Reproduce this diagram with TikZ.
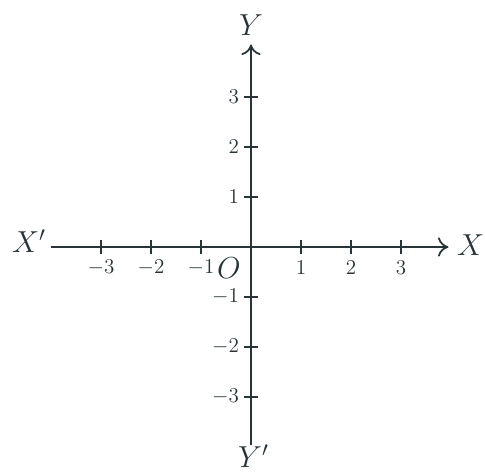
\documentclass[tikz,border=0pt]{standalone}
\usepackage{xcolor}
\usepackage{tikz}
\usetikzlibrary{arrows.meta}
\definecolor{axisgrey}{RGB}{40, 52, 56}

\begin{document}
\begin{tikzpicture}[
    axis/.style={draw=axisgrey, line width=1pt, -{To[length=6pt,width=11pt]}},
    tick/.style={draw=axisgrey, line width=0.8pt},
    axislabel/.style={text=axisgrey, font=\LARGE},
    ticklabel/.style={text=axisgrey, font=\large, inner sep=1pt}
  ]
  \useasboundingbox (-5.02,-4.56) rectangle (4.68,4.94);

  % axes
  \coordinate (origin) at (0,0);
  \coordinate (xleft) at (-4,0);
  \coordinate (xright) at (3.95,0);
  \coordinate (ybottom) at (0,-3.95);
  \coordinate (ytop) at (0,4.05);
  \draw[axis] (xleft) -- (xright);
  \draw[axis] (ybottom) -- (ytop);

  % ticks and numbers
  \foreach \n in {-3,-2,-1,1,2,3} {
    \draw[tick] (\n,-0.14) -- (\n,0.14);
    \draw[tick] (-0.14,\n) -- (0.14,\n);
    \node[ticklabel] (xnum\n) at (\n,-0.42) {$\n$};
  }
  \foreach \n in {1,2,3}
    \node[ticklabel, anchor=east] (ynum\n) at (-0.2,\n) {$\n$};
  \foreach \n in {-1,-2,-3}
    \node[ticklabel, anchor=east] (ynum\n) at (-0.2,\n) {$\n$};

  % labels
  \node[axislabel, anchor=west] (xlab) at (4.0,0.04) {$X$};
  \node[axislabel, anchor=east] (xprime) at (-3.98,0.12) {$X'$};
  \node[axislabel] (ylab) at (0,4.44) {$Y$};
  \node[axislabel, anchor=south] (yprime) at (0.05,-4.54) {$Y'$};
  \node[axislabel] (olab) at (-0.44,-0.42) {$O$};
\end{tikzpicture}
\end{document}
